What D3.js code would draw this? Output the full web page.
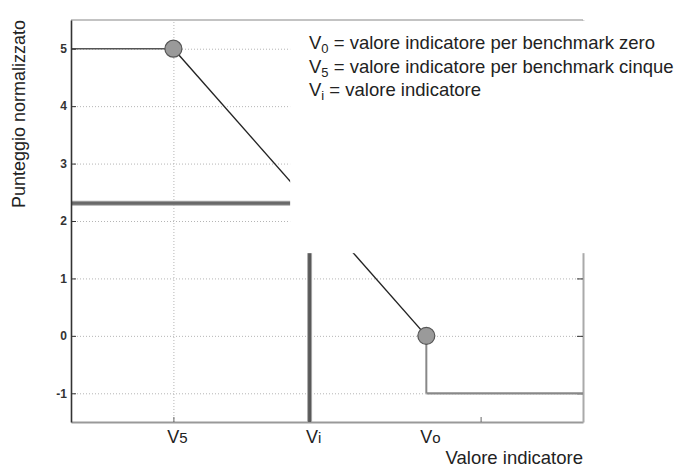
<!DOCTYPE html>
<html>
<head>
<meta charset="utf-8">
<script src="https://cdn.jsdelivr.net/npm/d3@7"></script>
<style>
  body { margin: 0; background: #fff; }
  text { font-family: Arial, "Liberation Sans", Helvetica, sans-serif; fill: #222; }
</style>
</head>
<body>
<div id="my_dataviz"></div>
<script>
// score curve: 5 up to V5, straight down to 0 at V0, then -1
var curveX = [0, 1, 3.47, 3.47, 5];
var curveY = [5, 5, 0, -1, -1];
// benchmark points (V5, V0)
var benchX = [1, 3.47];
var benchY = [5, 0];
// indicator value and its score
var viX = 2.33, viY = 2.31;
// ticks
var yTicks = [-1, 0, 1, 2, 3, 4, 5];
var xTicks = [1, 4];
var xGrid = [1];
var xLabelAt = [1, 2.33, 3.47];
var xLabelMain = ["V", "V", "V"];
var xLabelSub = ["5", "i", "o"];
// legend lines
var legendSub = ["0", "5", "i"];
var legendText = [" = valore indicatore per benchmark zero",
                  " = valore indicatore per benchmark cinque",
                  " = valore indicatore"];

var margin = {top: 20, right: 95, bottom: 47, left: 71},
    width = 678 - margin.left - margin.right,
    height = 469 - margin.top - margin.bottom;

var root = d3.select("#my_dataviz")
  .append("svg")
    .attr("width", 678)
    .attr("height", 469);
var svg = root.append("g")
    .attr("transform", "translate(" + margin.left + "," + margin.top + ")");

var x = d3.scaleLinear().domain([0, 5]).range([0, width]);
var y = d3.scaleLinear().domain([-1.5, 5.5]).range([height, 0]);

// horizontal gridlines
svg.append("g")
  .attr("class", "grid")
  .call(d3.axisLeft(y).tickValues(yTicks).tickSize(-width).tickFormat(""))
  .call(function(g) {
    g.select(".domain").remove();
    g.selectAll("line").attr("stroke", "#b5b5b5").attr("stroke-dasharray", "1,2");
  });

// vertical gridline at V5
svg.append("g")
  .attr("class", "grid")
  .attr("transform", "translate(0," + height + ")")
  .call(d3.axisBottom(x).tickValues(xGrid).tickSize(-height).tickFormat(""))
  .call(function(g) {
    g.select(".domain").remove();
    g.selectAll("line").attr("stroke", "#b5b5b5").attr("stroke-dasharray", "1,2");
  });

// bottom axis
svg.append("g")
  .attr("transform", "translate(0," + height + ")")
  .call(d3.axisBottom(x).tickValues(xTicks).tickSize(-5).tickSizeOuter(0).tickFormat(""))
  .call(function(g) {
    g.select(".domain").attr("stroke", "#999").attr("stroke-width", 2);
    g.selectAll(".tick line").attr("stroke", "#666");
  });

// right border
svg.append("g")
  .attr("transform", "translate(" + width + ",0)")
  .call(d3.axisRight(y).tickValues(yTicks).tickSize(-6).tickSizeOuter(0).tickFormat(""))
  .call(function(g) {
    g.select(".domain").attr("stroke", "#aaa").attr("stroke-width", 2);
    g.selectAll(".tick line").attr("stroke", "#333");
  });

// lookup lines for Vi
svg.append("line")
  .attr("x1", x(viX)).attr("x2", x(viX))
  .attr("y1", y(-1.5)).attr("y2", y(viY))
  .style("stroke", "#aaa").style("stroke-width", 5);
svg.append("line")
  .attr("x1", x(viX)).attr("x2", x(viX))
  .attr("y1", y(-1.5)).attr("y2", y(viY))
  .style("stroke", "#5a5a5a").style("stroke-width", 3);
svg.append("line")
  .attr("x1", x(0)).attr("x2", x(viX))
  .attr("y1", y(viY)).attr("y2", y(viY))
  .style("stroke", "#aaa").style("stroke-width", 5);
svg.append("line")
  .attr("x1", x(0)).attr("x2", x(viX))
  .attr("y1", y(viY)).attr("y2", y(viY))
  .style("stroke", "#6a6a6a").style("stroke-width", 3);

// score curve, one segment at a time
var segColor = ["#555", "#222", "#888", "#888"];
var segWidth = [1.6, 1.4, 2, 2.2];
var pts = curveX.map(function(d, i) { return [d, curveY[i]]; });
svg.selectAll(".seg")
  .data(d3.pairs(pts))
  .enter().append("line")
    .attr("class", "seg")
    .attr("x1", function(d) { return x(d[0][0]); })
    .attr("y1", function(d) { return y(d[0][1]); })
    .attr("x2", function(d) { return x(d[1][0]); })
    .attr("y2", function(d) { return y(d[1][1]); })
    .style("stroke", function(d, i) { return segColor[i]; })
    .style("stroke-width", function(d, i) { return segWidth[i]; });

svg.selectAll(".dot")
  .data(benchX)
  .enter().append("circle")
    .attr("class", "dot")
    .attr("cx", function(d) { return x(d); })
    .attr("cy", function(d, i) { return y(benchY[i]); })
    .attr("r", 8.5)
    .style("fill", "#9a9a9a")
    .style("stroke", "#555")
    .style("stroke-width", 1.2);

// white box over the upper right part (legend area)
svg.append("rect")
  .attr("x", x(2.14))
  .attr("y", y(5.5) + 1)
  .attr("width", 678)
  .attr("height", y(1.44) - y(5.5) - 1)
  .style("fill", "#fff");

// top border
svg.append("line")
  .attr("x1", 0).attr("x2", width)
  .attr("y1", 0).attr("y2", 0)
  .style("stroke", "#888").style("stroke-width", 1.2);

// left axis (plain hyphen for negatives, like the original)
svg.append("g")
  .call(d3.axisLeft(y).tickValues(yTicks).tickSize(-5).tickSizeOuter(0).tickPadding(4)
    .tickFormat(function(d) { return String(d); }))
  .call(function(g) {
    g.select(".domain").attr("stroke", "#333").attr("stroke-width", 1.6);
    g.selectAll(".tick line").attr("stroke", "#333");
    g.selectAll(".tick text")
      .style("font-size", "12px")
      .style("font-weight", "bold")
      .style("fill", "#333");
  });

// x labels V5, Vi, Vo
var xl = svg.selectAll(".xlab")
  .data(xLabelAt)
  .enter().append("text")
    .attr("class", "xlab")
    .attr("x", function(d) { return x(d) + 4; })
    .attr("y", height + 21)
    .style("text-anchor", "middle")
    .style("font-size", "18px");
xl.append("tspan").text(function(d, i) { return xLabelMain[i]; });
xl.append("tspan").style("font-size", "15px").text(function(d, i) { return xLabelSub[i]; });

// axis titles
root.append("text")
  .attr("transform", "translate(25," + (margin.top + 94) + ") rotate(-90)")
  .style("text-anchor", "middle")
  .style("font-size", "18px")
  .text("Punteggio normalizzato");

root.append("text")
  .attr("x", margin.left + width)
  .attr("y", 464)
  .style("text-anchor", "end")
  .style("font-size", "18.5px")
  .text("Valore indicatore");

// legend
var lg = root.selectAll(".leg")
  .data(legendText)
  .enter().append("text")
    .attr("class", "leg")
    .attr("x", 309)
    .attr("y", function(d, i) { return 49 + i * 23.5; })
    .style("font-size", "18.5px");
lg.append("tspan").text("V");
lg.append("tspan").attr("dy", 4).style("font-size", "13px").text(function(d, i) { return legendSub[i]; });
lg.append("tspan").attr("dy", -4).text(function(d) { return d; });
</script>
</body>
</html>
